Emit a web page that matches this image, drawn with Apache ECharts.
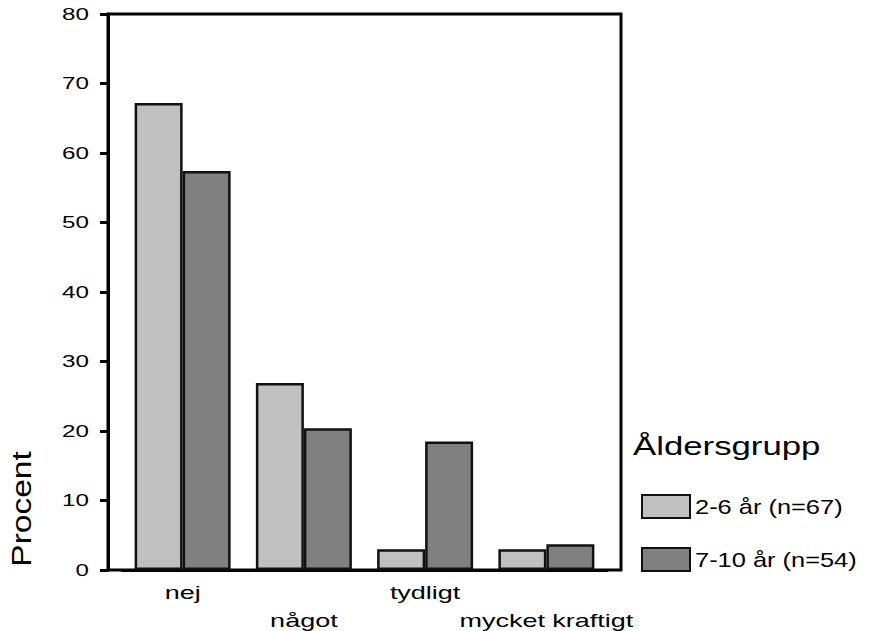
<!DOCTYPE html>
<html>
<head>
<meta charset="utf-8">
<script src="https://cdn.jsdelivr.net/npm/echarts@6/dist/echarts.min.js"></script>
<style>
html,body{margin:0;padding:0;background:#fff;}
#chart{width:869px;height:631px;}
</style>
</head>
<body>
<div id="chart"></div>
<script>
const categories = ['nej', 'något', 'tydligt', 'mycket kraftigt'];
const seriesNames = ['2-6 år (n=67)', '7-10 år (n=54)'];
const young = [67.2, 26.9, 3.0, 3.0];
const older = [57.4, 20.4, 18.5, 3.7];
const yTicks = { min: 0, max: 80, interval: 10 };
const yName = 'Procent';
const legendTitle = 'Åldersgrupp';

const FONT = 'Liberation Sans';
const chart = echarts.init(document.getElementById('chart'), null, { renderer: 'svg' });
chart.setOption({
  backgroundColor: '#fff',
  animation: false,
  textStyle: { fontFamily: FONT, color: '#000' },
  title: {
    text: legendTitle, left: 628, top: 428,
    textStyle: { fontFamily: FONT, fontSize: 25, fontWeight: 'normal', color: '#000' }
  },
  legend: {
    orient: 'vertical', left: 641, top: 494, padding: 0,
    itemWidth: 48, itemHeight: 23, itemGap: 28,
    icon: 'rect',
    data: seriesNames,
    textStyle: { fontFamily: FONT, fontSize: 21, color: '#000' }
  },
  grid: [
    { left: 108, top: 14, width: 513, height: 556, outerBoundsMode: 'none', show: true, borderColor: '#000', borderWidth: 3, backgroundColor: 'transparent' },
    { left: 122, top: 14, width: 485, height: 556, outerBoundsMode: 'none' }
  ],
  xAxis: [
    { gridIndex: 0, type: 'value', show: false, min: 0, max: 1 },
    {
      gridIndex: 1, type: 'category', data: categories,
      axisLine: { lineStyle: { color: '#000', width: 3 } },
      axisTick: { alignWithLabel: true, length: 6, lineStyle: { color: '#000', width: 3 } },
      axisLabel: {
        interval: 0, fontFamily: FONT, fontSize: 19, color: '#000', margin: 8, lineHeight: 28,
        formatter: (v, i) => (i % 2 ? '\n' + v : v)
      }
    }
  ],
  yAxis: [
    {
      gridIndex: 0, type: 'value', min: yTicks.min, max: yTicks.max, interval: yTicks.interval,
      axisLine: { show: true, lineStyle: { color: '#000', width: 3 } },
      axisTick: { show: true, length: 8, lineStyle: { color: '#000', width: 3 } },
      splitLine: { show: false },
      axisLabel: { fontFamily: FONT, fontSize: 17, color: '#000', margin: 19 }
    },
    { gridIndex: 1, type: 'value', min: yTicks.min, max: yTicks.max, show: false }
  ],
  graphic: [{
    type: 'text', x: 22, y: 509, rotation: Math.PI / 2,
    style: { text: yName, fontFamily: FONT, fontSize: 27, fill: '#000', align: 'center', verticalAlign: 'middle' }
  }],
  series: [
    {
      name: seriesNames[0], type: 'bar', xAxisIndex: 1, yAxisIndex: 1, data: young,
      barWidth: 48, barGap: '0%',
      itemStyle: { color: '#c0c0c0', borderColor: '#111', borderWidth: 2.5 }
    },
    {
      name: seriesNames[1], type: 'bar', xAxisIndex: 1, yAxisIndex: 1, data: older,
      barWidth: 48, barGap: '0%',
      itemStyle: { color: '#808080', borderColor: '#111', borderWidth: 2.5 }
    }
  ]
});

// The reference uses a horizontally widened typeface: widen each rendered text run.
function widenTexts() {
  document.querySelectorAll('#chart svg text').forEach(el => {
    const txt = el.textContent;
    if (!txt || el.getAttribute('data-wide')) return;
    const len = el.getComputedTextLength();
    if (!len) return;
    let k = 1.42;
    if (txt === yName) k = 1.24;
    else if (seriesNames.includes(txt)) k = 1.21;
    else if (txt === legendTitle) k = 1.39;
    el.setAttribute('textLength', (len * k).toFixed(1));
    el.setAttribute('lengthAdjust', 'spacingAndGlyphs');
    el.setAttribute('data-wide', '1');
  });
}
widenTexts();
chart.on('finished', widenTexts);
</script>
</body>
</html>
